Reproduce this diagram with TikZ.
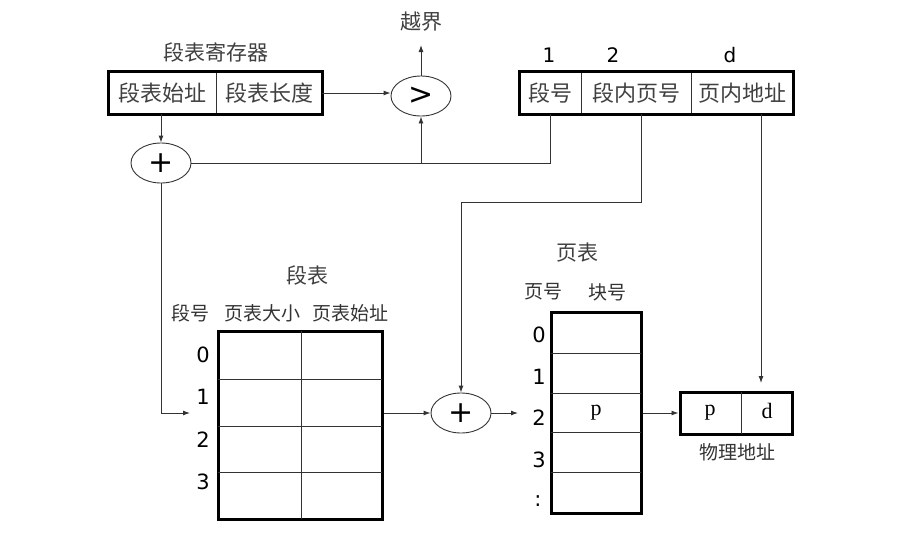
\documentclass[tikz,border=0pt]{standalone}
\usepackage{fontspec}
\setmainfont{DejaVu Sans}
\newfontfamily\cjk{Noto Sans CJK SC}
\newfontfamily\rmser{Liberation Serif}
\usetikzlibrary{shapes.geometric,arrows.meta}
\tikzset{
  line/.style={draw=black!80, line width=0.9pt},
  arr/.style={line, -{Latex[length=7pt,width=5pt]}},
  cell/.style={draw=black!80, line width=0.9pt, minimum height=42pt, inner sep=0pt, rectangle},
  frame/.style={draw=black, line width=3pt},
  zhbox/.style={font=\cjk\fontsize{22}{22}\selectfont, text=black!75},
  zhtitle/.style={font=\cjk\fontsize{21}{21}\selectfont, text=black!75, inner sep=0pt},
  zhhead/.style={font=\cjk\fontsize{19}{19}\selectfont, text=black!80, inner sep=0pt},
  digit/.style={font=\fontsize{21}{21}\selectfont, inner sep=0pt},
  topdigit/.style={font=\fontsize{20}{20}\selectfont, inner sep=0pt},
  oper/.style={ellipse, draw=black!80, line width=0.9pt, minimum width=60pt, minimum height=40pt, inner sep=0pt, font=\fontsize{30}{30}\selectfont},
  ser/.style={font=\rmser\fontsize{22}{22}\selectfont, inner sep=0pt}
}
\begin{document}
\begin{tikzpicture}[x=1pt,y=-1pt]
\useasboundingbox (0,0) rectangle (915,549);
% segment table register
\node[zhtitle] (regt) at (216,52) {段表寄存器};
\node[cell, zhbox, minimum width=107pt] (reg1) at (162.5,93) {段表始址};
\node[cell, zhbox, minimum width=106pt] (reg2) at (269,93) {段表长度};
\draw[frame] (reg1.north west) rectangle (reg2.south east);
% compare
\node[oper] (cmp) at (421,96) {>};
\node[zhtitle] (over) at (421,22) {越界};
\coordinate (overtip) at (421,45);
% adders
\node[oper] (plus1) at (161,163) {+};
\node[oper] (plus2) at (461,413) {+};
% logical address
\node[topdigit] (n1) at (549,55) {1};
\node[topdigit] (n2) at (613,55) {2};
\node[topdigit] (nd) at (730,55) {d};
\node[cell, zhbox, minimum width=61pt] (a1) at (550.5,93) {段号};
\node[cell, zhbox, minimum width=110pt] (a2) at (636,93) {段内页号};
\node[cell, zhbox, minimum width=102pt] (a3) at (742,93) {页内地址};
\draw[frame] (a1.north west) rectangle (a3.south east);
% segment table
\node[zhtitle] (segt) at (307,275) {段表};
\node[zhhead] (h1) at (190,313) {段号};
\node[zhhead] (h2) at (262,313) {页表大小};
\node[zhhead] (h3) at (350,313) {页表始址};
\node[frame, rectangle, minimum width=164pt, minimum height=188pt, inner sep=0pt] (seg) at (300,425) {};
\draw[line] (301,331) -- (301,519);
\foreach \yy in {379,426,472} \draw[line] (218,\yy) -- (382,\yy);
\node[digit] (s0) at (203,355) {0};
\node[digit] (s1) at (203,397) {1};
\node[digit] (s2) at (203,440) {2};
\node[digit] (s3) at (203,482) {3};
\coordinate (segin) at (190,413);
% page table
\node[zhtitle] (ptt) at (577,253) {页表};
\node[zhhead] (ph1) at (543,292) {页号};
\node[zhhead] (ph2) at (607,292) {块号};
\node[frame, rectangle, minimum width=90pt, minimum height=201pt, inner sep=0pt] (pt) at (596,412.5) {};
\foreach \yy in {353,393,432,472} \draw[line] (551,\yy) -- (641,\yy);
\node[digit] (p0) at (539,335) {0};
\node[digit] (p1) at (539,377) {1};
\node[digit] (p2) at (539,418) {2};
\node[digit] (p3) at (539,460) {3};
\node[digit] (p4) at (538,501) {:};
\node[ser] (pp) at (596,413) {p};
\coordinate (ptin) at (518,413);
% physical address
\node[frame, rectangle, minimum width=112pt, minimum height=42pt, inner sep=0pt] (phys) at (736,413) {};
\draw[line] (741,392) -- (741,434);
\node[ser] (physp) at (710,413) {p};
\node[ser] (physd) at (767,411) {d};
\node[zhhead] (physl) at (737,452) {物理地址};
\coordinate (physin) at (761,383);
% connectors
\draw[arr] (reg2.east) -- (cmp.west |- reg2.east);
\draw[arr] (cmp.north) -- (overtip);
\draw[arr] (plus1 |- reg1.south) -- (plus1.north);
\draw[line] (plus1.east) -| (a1.south);
\draw[arr] (cmp |- plus1) -- (cmp.south);
\draw[arr] (plus1.south) |- (segin);
\draw[arr] ([xshift=5pt]a2.south) |- (plus2 |- 0,202) -- (plus2.north);
\draw[arr] ([xshift=19pt]a3.south) -- (physin);
\draw[arr] (seg.east |- plus2) -- (plus2.west);
\draw[arr] (plus2.east) -- (ptin);
\draw[arr] (pt.east |- plus2) -- (phys.west);
\end{tikzpicture}
\end{document}
